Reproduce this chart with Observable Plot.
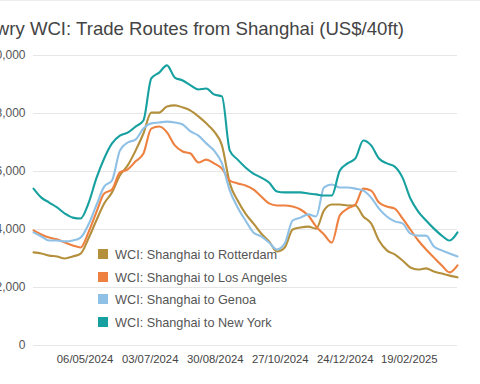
<!DOCTYPE html>
<html>
<head>
<meta charset="utf-8">
<script src="https://cdn.jsdelivr.net/npm/d3@7"></script>
<script src="https://cdn.jsdelivr.net/npm/@observablehq/plot@0.6"></script>
<style>
  html, body { margin: 0; padding: 0; background: #fff; }
  #wrap { position: relative; width: 480px; height: 384px; overflow: hidden; font-family: "Liberation Sans", Arial, sans-serif; border-top: 1px solid #eee; box-sizing: border-box; }
  #title { position: absolute; right: 76px; top: 19px; font-size: 18.6px; line-height: 18px; color: #444; white-space: nowrap; }
  #chart { position: absolute; left: 0; top: -1px; }
  #legend { position: absolute; left: 98px; top: 247px; font-size: 12.7px; color: #555; }
  .row { position: relative; height: 22.5px; line-height: 14px; }
  .sw { position: absolute; left: 0; top: 1px; width: 10px; height: 10px; }
  .lb { position: absolute; left: 17px; top: 0; white-space: nowrap; }
</style>
</head>
<body>
<div id="wrap">
  <div id="title">Drewry WCI: Trade Routes from Shanghai (US$/40ft)</div>
  <div id="chart"></div>
  <div id="legend"></div>
</div>
<script>
const dates = ["2024-03-21","2024-03-28","2024-04-04","2024-04-11","2024-04-18","2024-04-25","2024-05-02","2024-05-09","2024-05-16","2024-05-23","2024-05-30","2024-06-06","2024-06-13","2024-06-20","2024-06-27","2024-07-04","2024-07-11","2024-07-18","2024-07-25","2024-08-01","2024-08-08","2024-08-15","2024-08-22","2024-08-29","2024-09-05","2024-09-12","2024-09-19","2024-09-26","2024-10-03","2024-10-10","2024-10-17","2024-10-24","2024-10-31","2024-11-07","2024-11-14","2024-11-21","2024-11-28","2024-12-05","2024-12-12","2024-12-19","2024-12-26","2025-01-02","2025-01-09","2025-01-16","2025-01-23","2025-01-30","2025-02-06","2025-02-13","2025-02-20","2025-02-27","2025-03-06","2025-03-13","2025-03-20","2025-03-27","2025-04-03"];

const rotterdam = [3210,3170,3100,3070,3000,3070,3170,3690,4310,4900, 5280,5860,6210,6720,7310,8030,8030,8240,8280,8210, 8100,7900,7660,7380,6900,5590,5000,4550,4210,3860, 3590,3240,3380,4000,4070,4100,4030,4660,4860,4860, 4830,4830,4450,4210,3620,3280,3140,2930,2690,2620, 2660,2550,2480,2410,2350];
const losAngeles = [3970,3830,3720,3660,3550,3450,3380,3900,4590,5240, 5380,5970,6070,6350,6620,7480,7550,7350,6900,6690, 6620,6310,6410,6280,6100,5690,5590,5520,5380,5140, 4900,4830,4830,4790,4690,4480,4100,3830,3550,4480, 4720,4860,5410,5340,4930,4790,4720,4380,4000,3620, 3310,3030,2760,2520,2760];
const genoa = [3900,3760,3620,3620,3590,3620,3720,4170,4830,5480, 5690,6720,7000,7100,7480,7660,7690,7720,7690,7620, 7380,7240,6970,6720,6280,5340,4760,4310,3900,3760, 3550,3310,3520,4310,4410,4520,4450,5450,5550,5450, 5450,5410,5340,5100,4720,4450,4280,4210,3860,3790, 3790,3410,3280,3170,3070];
const newYork = [5410,5100,4930,4760,4550,4410,4380,4900,5760,6450, 6970,7240,7340,7550,7760,9210,9410,9660,9240,9140, 8970,8830,8860,8660,8590,6720,6410,6140,5930,5790, 5620,5310,5280,5280,5280,5240,5210,5170,5170,6030, 6280,6450,7070,6900,6450,6280,6170,5790,5070,4620, 4310,4030,3790,3620,3900];

const seriesNames = ["WCI: Shanghai to Rotterdam","WCI: Shanghai to Los Angeles","WCI: Shanghai to Genoa","WCI: Shanghai to New York"];
const seriesColors = ["#b48f3c","#ee8040","#8fc0e6","#17a0a0"];
const xTickDates = ["2024-05-06","2024-07-03","2024-08-30","2024-10-27","2024-12-24","2025-02-19"];
const yTicks = [0,2000,4000,6000,8000,10000];

const values = [rotterdam, losAngeles, genoa, newYork];
const rows = [];
values.forEach((arr, s) => arr.forEach((v, i) => rows.push({date: new Date(dates[i]), value: v, series: seriesNames[s]})));

const fmtDate = d3.utcFormat("%d/%m/%Y");

const chart = Plot.plot({
  width: 480,
  height: 384,
  marginLeft: 33,
  marginRight: 23,
  marginTop: 55,
  marginBottom: 39,
  style: {fontFamily: "Liberation Sans, Arial, sans-serif", fontSize: "11.3px", color: "#555", background: "transparent"},
  x: {type: "utc", domain: [new Date(dates[0]), new Date(dates[dates.length - 1])], label: null},
  y: {domain: [0, 10000], label: null},
  color: {domain: seriesNames, range: seriesColors},
  marks: [
    Plot.gridY(yTicks, {stroke: "#e6e6e6", strokeOpacity: 1}),
    Plot.axisY({ticks: yTicks, tickFormat: d3.format(","), tickSize: 0, tickPadding: 8, label: null, fill: "#555", fontSize: 12}),
    Plot.axisX({ticks: xTickDates.map(d => new Date(d)), tickFormat: fmtDate, tickSize: 0, tickPadding: 9, label: null, fill: "#444", fontSize: 11.3}),
    Plot.line(rows, {x: "date", y: "value", z: "series", stroke: "series", strokeWidth: 2.1, curve: "monotone-x"})
  ]
});
document.getElementById("chart").appendChild(chart);

const legend = document.getElementById("legend");
seriesNames.forEach((name, i) => {
  const row = document.createElement("div");
  row.className = "row";
  row.innerHTML = `<span class="sw" style="background:${seriesColors[i]}"></span><span class="lb">${name}</span>`;
  legend.appendChild(row);
});
</script>
</body>
</html>
